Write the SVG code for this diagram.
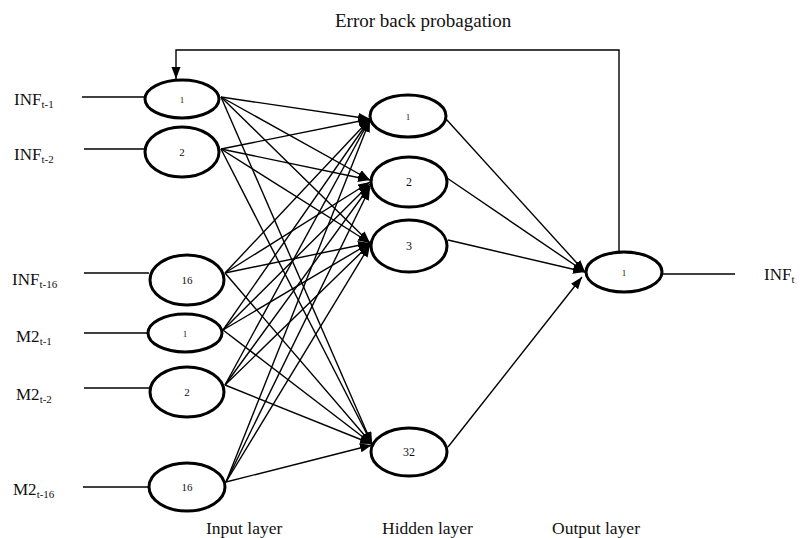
<svg xmlns="http://www.w3.org/2000/svg" width="800" height="538" viewBox="0 0 800 538">
<style>
.node{fill:#fff;stroke:#000;stroke-width:3}
.lbl{font-family:"Liberation Serif",serif;fill:#111}
.nl{font-family:"Liberation Serif",serif;text-anchor:middle;fill:#111}
.e{stroke:#000;stroke-width:1.4;fill:none}
.arr{marker-end:url(#ah)}
.big{font-size:17px}
.sub{font-size:11px}
</style>
<defs>
<marker id="ah" markerUnits="userSpaceOnUse" markerWidth="13" markerHeight="10" refX="12" refY="4.5" orient="auto">
<path d="M0,0 L12,4.5 L0,9 z" fill="#000"/>
</marker>
</defs>
<text class="lbl" x="335" y="27" font-size="19">Error back probagation</text>
<g id="connectors">
<path class="e arr" d="M619,252 V50 H176 V79"/>
<line class="e" x1="82" y1="97" x2="145" y2="97"/>
<line class="e" x1="84" y1="149" x2="145" y2="149"/>
<line class="e" x1="84" y1="273" x2="149" y2="273"/>
<line class="e" x1="84" y1="333" x2="147" y2="333"/>
<line class="e" x1="84" y1="388" x2="149" y2="388"/>
<line class="e" x1="83" y1="487" x2="149" y2="487"/>
<line class="e" x1="662" y1="274" x2="735" y2="274"/>
<line class="e arr" x1="221" y1="97" x2="370" y2="119"/>
<line class="e arr" x1="221" y1="97" x2="370" y2="180"/>
<line class="e arr" x1="221" y1="97" x2="370" y2="243"/>
<line class="e arr" x1="221" y1="97" x2="372" y2="444"/>
<line class="e arr" x1="221" y1="149" x2="370" y2="119"/>
<line class="e arr" x1="221" y1="149" x2="370" y2="180"/>
<line class="e arr" x1="221" y1="149" x2="370" y2="243"/>
<line class="e arr" x1="221" y1="149" x2="372" y2="444"/>
<line class="e arr" x1="225" y1="273" x2="370" y2="119"/>
<line class="e arr" x1="225" y1="273" x2="370" y2="182"/>
<line class="e arr" x1="225" y1="273" x2="370" y2="243"/>
<line class="e arr" x1="225" y1="273" x2="372" y2="444"/>
<line class="e arr" x1="223" y1="330" x2="370" y2="119"/>
<line class="e arr" x1="223" y1="330" x2="370" y2="184"/>
<line class="e arr" x1="223" y1="330" x2="370" y2="243"/>
<line class="e arr" x1="223" y1="330" x2="372" y2="444"/>
<line class="e arr" x1="225" y1="385" x2="370" y2="119"/>
<line class="e arr" x1="225" y1="385" x2="370" y2="186"/>
<line class="e arr" x1="225" y1="385" x2="370" y2="244"/>
<line class="e arr" x1="225" y1="385" x2="372" y2="444"/>
<line class="e arr" x1="226" y1="482" x2="370" y2="120"/>
<line class="e arr" x1="226" y1="482" x2="370" y2="188"/>
<line class="e arr" x1="226" y1="482" x2="370" y2="245"/>
<line class="e arr" x1="226" y1="482" x2="372" y2="445"/>
<line class="e arr" x1="446" y1="119" x2="585" y2="272"/>
<line class="e arr" x1="447" y1="178" x2="585" y2="272"/>
<line class="e arr" x1="448" y1="240" x2="585" y2="272"/>
<line class="e arr" x1="448" y1="447" x2="582" y2="277"/>
</g>
<g id="in1"><ellipse class="node" cx="182" cy="99" rx="37" ry="19"/><text class="nl" x="182" y="103" font-size="9">1</text></g>
<g id="in2"><ellipse class="node" cx="182" cy="152" rx="37" ry="25"/><text class="nl" x="182" y="156" font-size="11">2</text></g>
<g id="in16"><ellipse class="node" cx="187" cy="280" rx="37" ry="25"/><text class="nl" x="187" y="284" font-size="11">16</text></g>
<g id="m21"><ellipse class="node" cx="185" cy="333" rx="37" ry="19"/><text class="nl" x="185" y="337" font-size="9">1</text></g>
<g id="m22"><ellipse class="node" cx="187" cy="392" rx="37" ry="25"/><text class="nl" x="187" y="396" font-size="11">2</text></g>
<g id="m216"><ellipse class="node" cx="187" cy="487" rx="38" ry="24"/><text class="nl" x="187" y="491" font-size="11">16</text></g>
<g id="h1"><ellipse class="node" cx="408" cy="116" rx="38" ry="21"/><text class="nl" x="408" y="120" font-size="9">1</text></g>
<g id="h2"><ellipse class="node" cx="409" cy="182" rx="38" ry="25"/><text class="nl" x="409" y="186" font-size="12">2</text></g>
<g id="h3"><ellipse class="node" cx="409" cy="246" rx="38" ry="26"/><text class="nl" x="409" y="250" font-size="12">3</text></g>
<g id="h32"><ellipse class="node" cx="409" cy="452" rx="38" ry="24"/><text class="nl" x="409" y="456" font-size="12">32</text></g>
<g id="out1"><ellipse class="node" cx="624" cy="272" rx="38" ry="20"/><text class="nl" x="624" y="276" font-size="9">1</text></g>
<g id="labels">
<text class="lbl big" x="14" y="105">INF<tspan class="sub" dy="3">t-1</tspan></text>
<text class="lbl big" x="14" y="160">INF<tspan class="sub" dy="3">t-2</tspan></text>
<text class="lbl big" x="12" y="285">INF<tspan class="sub" dy="3">t-16</tspan></text>
<text class="lbl big" x="16" y="342">M2<tspan class="sub" dy="3">t-1</tspan></text>
<text class="lbl big" x="16" y="400">M2<tspan class="sub" dy="3">t-2</tspan></text>
<text class="lbl big" x="13" y="495">M2<tspan class="sub" dy="3">t-16</tspan></text>
<text class="lbl big" x="764" y="280">INF<tspan class="sub" dy="3">t</tspan></text>
<text class="lbl" x="206" y="534" font-size="17.5">Input layer</text>
<text class="lbl" x="382" y="534" font-size="17.5">Hidden layer</text>
<text class="lbl" x="552" y="534" font-size="17.5">Output layer</text>
</g>
</svg>
